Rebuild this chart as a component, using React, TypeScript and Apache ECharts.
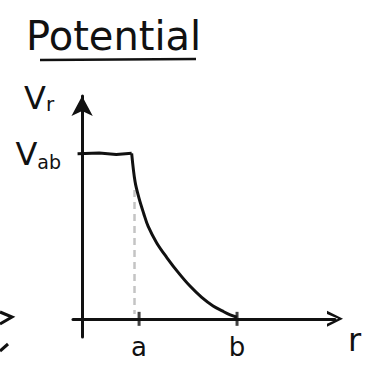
import { useEffect, useRef } from "react";
import * as echarts from "echarts";

// Potential V(r): flat at V_ab inside the inner radius...
const plateauR = [-0.08, 0.3, 0.6, 0.87];
const plateauV = [1.0, 1.004, 0.996, 1.003];

// ...then falling off to zero at the outer radius b
const decayR = [0.87, 0.93, 1.0, 1.08, 1.16, 1.31, 1.49, 1.69, 1.89, 2.1, 2.3, 2.46, 2.6, 2.72];
const decayV = [1.003, 0.83, 0.73, 0.64, 0.56, 0.46, 0.37, 0.28, 0.2, 0.13, 0.078, 0.048, 0.024, 0.01];

// faint guide dropped from the corner down to the r axis
const guideR = [0.92, 0.92];
const guideV = [0.78, 0.03];

// marked radii on the r axis
const tickR = [1, 2.72];
const tickLabels = ["a", "b"];

// marked level on the V axis
const levelV = [1];

const INK = "#111";
const FONT = "DejaVu Sans";

export default function App() {
  const ref = useRef<HTMLDivElement>(null);

  useEffect(() => {
    if (!ref.current) return;
    const chart = echarts.init(ref.current, null, { renderer: "svg" });
    chart.setOption({
      animation: false,
      backgroundColor: "#fff",
      grid: { left: 73, right: 31, top: 96, bottom: 34 },
      xAxis: {
        type: "value",
        min: -0.16,
        max: 4.44,
        splitLine: { show: false },
        axisLine: {
          onZero: true,
          lineStyle: { color: INK, width: 3 },
          symbol: ["none", "path://M5 0L10 10L8 10L5 3L2 10L0 10Z"],
          symbolSize: [18, 16],
        },
        axisTick: { show: false },
        axisLabel: {
          customValues: tickR,
          formatter: (v: number) => tickLabels[tickR.indexOf(v)] ?? "",
          color: INK,
          fontSize: 26,
          fontFamily: FONT,
          margin: -3,
        },
      },
      yAxis: {
        type: "value",
        min: -0.11,
        max: 1.35,
        splitLine: { show: false },
        axisLine: {
          onZero: true,
          lineStyle: { color: INK, width: 3 },
          symbol: ["none", "arrow"],
          symbolSize: [16, 20],
        },
        axisTick: { show: false },
        axisLabel: {
          customValues: levelV,
          formatter: () => "{v|V}{s|ab}",
          margin: 12,
          rich: {
            v: { fontSize: 32, color: INK, fontFamily: FONT },
            s: { fontSize: 19, color: INK, fontFamily: FONT, padding: [16, 0, 0, 0] },
          },
        },
      },
      series: [
        {
          type: "line",
          data: guideR.map((r, i) => [r, guideV[i]]),
          symbol: "none",
          lineStyle: { color: "#c4c4c4", width: 2.5, type: [7, 5] },
          z: 1,
        },
        {
          type: "line",
          data: plateauR.map((r, i) => [r, plateauV[i]]),
          symbol: "none",
          lineStyle: { color: INK, width: 3 },
          z: 3,
        },
        {
          type: "line",
          data: decayR.map((r, i) => [r, decayV[i]]),
          symbol: "none",
          smooth: 0.35,
          lineStyle: { color: INK, width: 3 },
          z: 3,
        },
        {
          type: "scatter",
          data: tickR.map((r) => [r, 0]),
          symbol: "rect",
          symbolSize: [3, 14],
          itemStyle: { color: INK },
          z: 4,
        },
      ],
      graphic: [
        {
          type: "text",
          left: 26,
          top: 16,
          style: { text: "Potential", fontSize: 40, fontFamily: FONT, fill: INK },
        },
        {
          type: "line",
          shape: { x1: 40, y1: 60, x2: 196, y2: 59 },
          style: { stroke: INK, lineWidth: 2.5 },
        },
        {
          type: "text",
          left: 24,
          top: 82,
          style: {
            text: "{v|V}{s|r}",
            rich: {
              v: { fontSize: 32, fill: INK, fontFamily: FONT },
              s: { fontSize: 20, fill: INK, fontFamily: FONT, padding: [12, 0, 0, 0] },
            },
          },
        },
        {
          type: "text",
          left: 348,
          top: 324,
          style: { text: "r", fontSize: 32, fontFamily: FONT, fill: INK },
        },
        {
          type: "polyline",
          shape: { points: [[0, 312], [12, 317], [0, 324]] },
          style: { stroke: INK, lineWidth: 3, fill: "none" },
        },
        {
          type: "polyline",
          shape: { points: [[0, 351], [8, 344]] },
          style: { stroke: INK, lineWidth: 3, fill: "none" },
        },
      ],
    });
    return () => chart.dispose();
  }, []);

  return (
    <div
      ref={ref}
      style={{ position: "fixed", left: 0, top: 0, width: 366, height: 371, background: "#fff" }}
    />
  );
}
